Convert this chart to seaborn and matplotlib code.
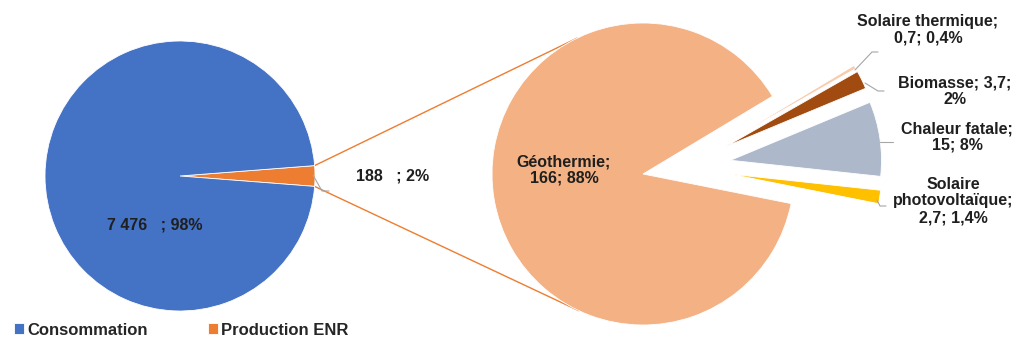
import numpy as np
import matplotlib
matplotlib.use("Agg")
import matplotlib.pyplot as plt
import seaborn as sns

# Main split: total consumption vs renewable production (GWh)
main_labels = ["Production ENR", "Consommation"]
main_values = [188, 7476]
main_texts = ["188   ; 2%", "7 476   ; 98%"]

# Breakdown of renewable production
enr_labels = ["Géothermie", "Solaire thermique", "Biomasse", "Chaleur fatale",
              "Solaire photovoltaïque"]
enr_values = [166, 0.7, 3.7, 15, 2.7]
enr_texts = ["Géothermie;\n166; 88%", "Solaire thermique;\n0,7; 0,4%",
             "Biomasse; 3,7;\n2%", "Chaleur fatale;\n15; 8%",
             "Solaire\nphotovoltaïque;\n2,7; 1,4%"]

main_colors = ["#ED7D31", "#4472C4"]
enr_colors = ["#F4B183", "#F8CBAD", "#A24B10", "#ADB9CA", "#FFC000"]

sns.set_theme(style="white")
plt.rcParams["font.family"] = ["Liberation Sans", "DejaVu Sans"]

W, H = 1018, 344
fig = plt.figure(figsize=(W / 100, H / 100), dpi=100)
ax = fig.add_axes([0, 0, 1, 1])


def py(y):
    """Convert a top-down pixel row into the axis' y coordinate."""
    return H - y


wp = dict(linewidth=0.6, edgecolor="white")

# Left pie
c1 = np.array([180.0, py(176)])
r1 = 135.0
enr_span = 360.0 * main_values[0] / sum(main_values)
start1 = -enr_span / 2
wedges1, _ = ax.pie(main_values, colors=main_colors, startangle=start1,
                    center=tuple(c1), radius=r1, counterclock=True,
                    wedgeprops=wp, frame=True)

# Right pie, drawn clockwise: the dominant source stays in place ...
c2 = np.array([643.0, py(174)])
r2 = 151.0
geo_span = 360.0 * enr_values[0] / sum(enr_values)
start2 = 31.0 + geo_span - 360.0
wedges_geo, _ = ax.pie(enr_values, colors=enr_colors, startangle=start2,
                       center=tuple(c2), radius=r2, counterclock=False,
                       wedgeprops=wp, frame=True)
for w in wedges_geo[1:]:
    w.set_visible(False)

# ... while the minor sources are pulled out to the right as a group
c2_minor = c2 + np.array([41.0, 7.0])
explode = [0, 47, 47, 47, 47]
wedges_minor, _ = ax.pie(enr_values, colors=enr_colors, startangle=start2,
                         center=tuple(c2_minor), radius=r2, counterclock=False,
                         explode=explode, wedgeprops=wp, frame=True)
wedges_minor[0].set_visible(False)

ax.set_xlim(0, W)
ax.set_ylim(0, H)
ax.set_aspect("equal")
ax.axis("off")

# Connector lines from the ENR slice tangent to the second pie
for ang, sign in [(enr_span / 2, -1), (-enr_span / 2, 1)]:
    p = c1 + r1 * np.array([np.cos(np.radians(ang)), np.sin(np.radians(ang))])
    v = p - c2
    d = np.hypot(*v)
    theta = np.arctan2(v[1], v[0])
    alpha = np.arccos(r2 / d)
    t = theta + sign * alpha
    q = c2 + r2 * np.array([np.cos(t), np.sin(t)])
    ax.plot([p[0], q[0]], [p[1], q[1]], color="#ED7D31", lw=1.0, zorder=0.5)

bold = dict(fontsize=11.5, fontweight="bold", color="#1f1f1f",
            ha="center", va="center", linespacing=1.15)
lead = dict(color="#A6A6A6", lw=0.8)

# Left pie labels
ax.text(155, py(225), main_texts[1], **bold)
ax.text(393, py(176), main_texts[0], **bold)
ax.plot([313, 322, 329], [py(175), py(191), py(191)], **lead)

# Right pie labels
ax.text(564, py(170), enr_texts[0], **bold)
ax.text(928, py(30), enr_texts[1], **bold)
ax.plot([855, 872, 878], [py(70), py(52), py(52)], **lead)
ax.text(955, py(91), enr_texts[2], **bold)
ax.plot([865, 878, 884], [py(83), py(91), py(91)], **lead)
ax.text(957, py(137), enr_texts[3], **bold)
ax.plot([880, 893], [py(142), py(142)], **lead)
ax.text(953, py(201), enr_texts[4], **bold)
ax.plot([877, 880, 886], [py(200), py(206), py(206)], **lead)

# Legend
handles = [wedges1[1], wedges1[0]]
leg = fig.legend(handles, [main_labels[1], main_labels[0]], loc="lower left",
                 bbox_to_anchor=(-0.001, -0.025), ncol=2, frameon=False,
                 handlelength=0.6, handleheight=0.6, handletextpad=0.2,
                 columnspacing=3.6, prop=dict(weight="bold", size=12))

fig.savefig("out.png", dpi=100, facecolor="white")
